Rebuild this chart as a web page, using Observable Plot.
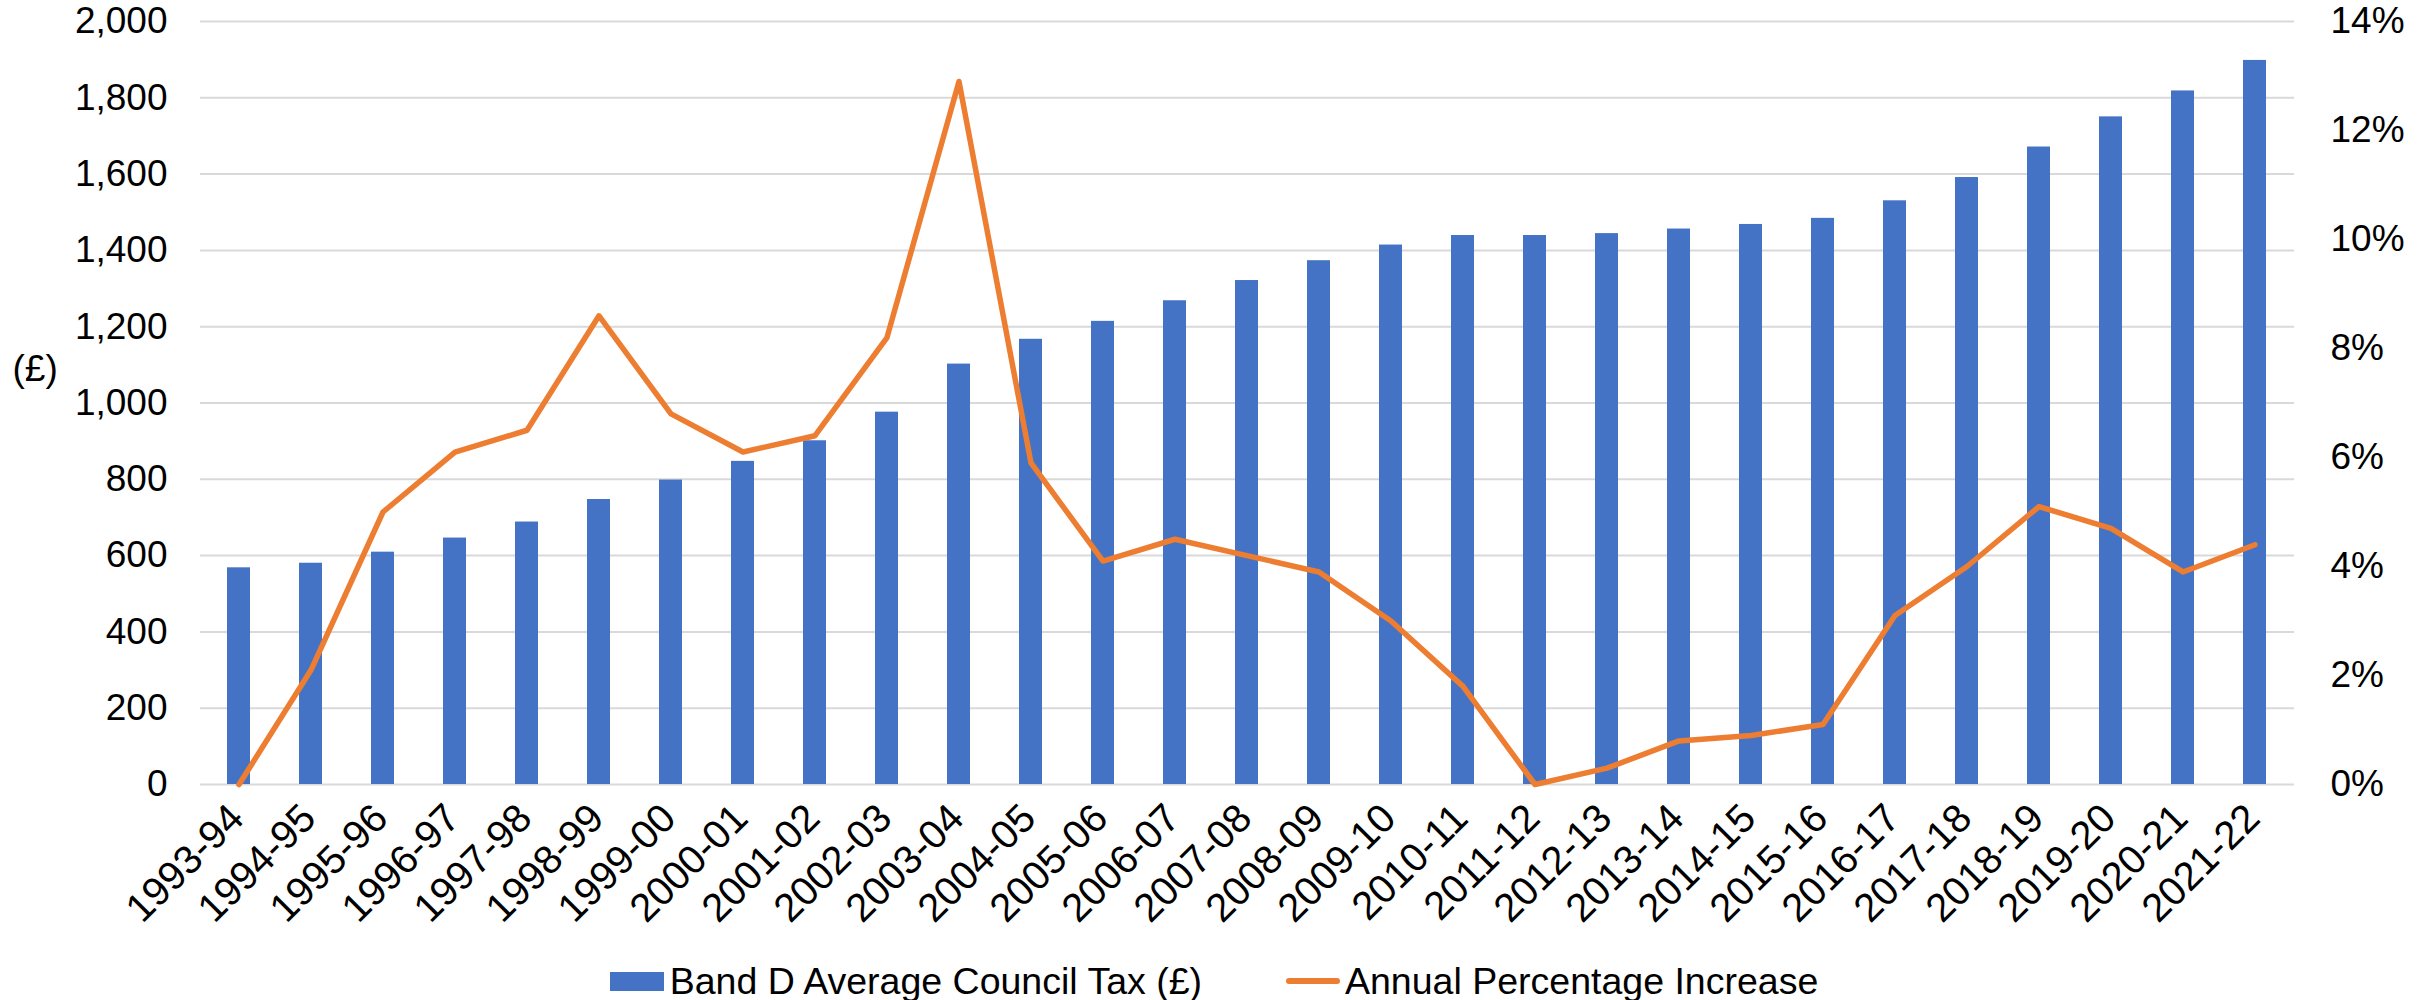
<!DOCTYPE html>
<html>
<head>
<meta charset="utf-8">
<script src="https://cdn.jsdelivr.net/npm/d3@7"></script>
<script src="https://cdn.jsdelivr.net/npm/@observablehq/plot@0.6"></script>
<style>
  html, body { margin: 0; padding: 0; background: #fff; }
  body { width: 2428px; height: 1000px; overflow: hidden; font-family: "Liberation Sans", Arial, sans-serif; }
  #legend {
    display: flex; justify-content: center; align-items: center;
    height: 50px; padding-top: 6px; font-size: 37.5px; color: #000;
  }
  .item { display: flex; align-items: center; }
  .item + .item { margin-left: 84px; }
  .swatch-bar { width: 54px; height: 19px; background: #4472C4; margin-right: 6px; }
  .swatch-line { width: 54px; height: 6px; border-radius: 3px; background: #ED7D31; margin-right: 5px; }
</style>
</head>
<body>
<div id="chart"></div>
<div id="legend">
  <div class="item"><span class="swatch-bar"></span><span>Band D Average Council Tax (£)</span></div>
  <div class="item"><span class="swatch-line"></span><span>Annual Percentage Increase</span></div>
</div>
<script>
// Financial years
const years = [
  "1993-94","1994-95","1995-96","1996-97","1997-98","1998-99","1999-00","2000-01",
  "2001-02","2002-03","2003-04","2004-05","2005-06","2006-07","2007-08","2008-09",
  "2009-10","2010-11","2011-12","2012-13","2013-14","2014-15","2015-16","2016-17",
  "2017-18","2018-19","2019-20","2020-21","2021-22"
];
// Band D average council tax (£)
const bandD = [
  568, 580, 609, 646, 688, 747, 798, 847,
  901, 976, 1102, 1167, 1214, 1268, 1321, 1373,
  1414, 1439, 1439, 1444, 1456, 1468, 1484, 1530,
  1591, 1671, 1750, 1818, 1898
];
// Annual percentage increase (%)
const pctIncrease = [
  0.0, 2.1, 5.0, 6.1, 6.5, 8.6, 6.8, 6.1,
  6.4, 8.2, 12.9, 5.9, 4.1, 4.5, 4.2, 3.9,
  3.0, 1.8, 0.0, 0.3, 0.8, 0.9, 1.1, 3.1,
  4.0, 5.1, 4.7, 3.9, 4.4
];
// Axis ticks
const poundTicks = d3.range(0, 2001, 200);
const pctTicks = d3.range(0, 15, 2);

const poundMax = 2000;
const pctMax = 14;
// the percentage series shares the frame, rescaled so 14% sits at £2,000
const k = poundMax / pctMax;

const rows = years.map((year, i) => ({year, tax: bandD[i], pct: pctIncrease[i]}));

const FS = 37;

const chart = Plot.plot({
  width: 2428,
  height: 950,
  marginLeft: 200,
  marginRight: 134,
  marginTop: 21,
  marginBottom: 166,
  style: {fontFamily: "Liberation Sans, Arial, sans-serif", fontSize: FS + "px", color: "#000", background: "#fff"},
  x: {domain: years, paddingInner: 0.68, paddingOuter: 0.34, label: null},
  y: {domain: [0, poundMax], label: null},
  marks: [
    Plot.gridY(poundTicks, {stroke: "#d9d9d9", strokeOpacity: 1, strokeWidth: 2}),
    Plot.barY(rows, {x: "year", y: "tax", fill: "#4472C4"}),
    Plot.line(rows, {x: "year", y: d => d.pct * k, stroke: "#ED7D31", strokeWidth: 5.5, strokeLinejoin: "round", strokeLinecap: "round"}),
    Plot.axisY(poundTicks, {anchor: "left", tickSize: 0, tickPadding: 33, tickFormat: d3.format(","), fill: "#000", fontSize: FS}),
    Plot.axisY(pctTicks.map(p => p * k), {anchor: "right", tickSize: 0, tickPadding: 36, tickFormat: v => Math.round(v / k) + "%", fill: "#000", textAnchor: "start", fontSize: FS}),
    Plot.axisX({tickSize: 0, tickRotate: -45, tickPadding: 27, dx: -2, fill: "#000", fontSize: 40}),
    Plot.text(["(£)"], {frameAnchor: "left", dx: -188, dy: -34, textAnchor: "start", fill: "#000", fontSize: FS})
  ]
});
document.getElementById("chart").append(chart);
</script>
</body>
</html>
